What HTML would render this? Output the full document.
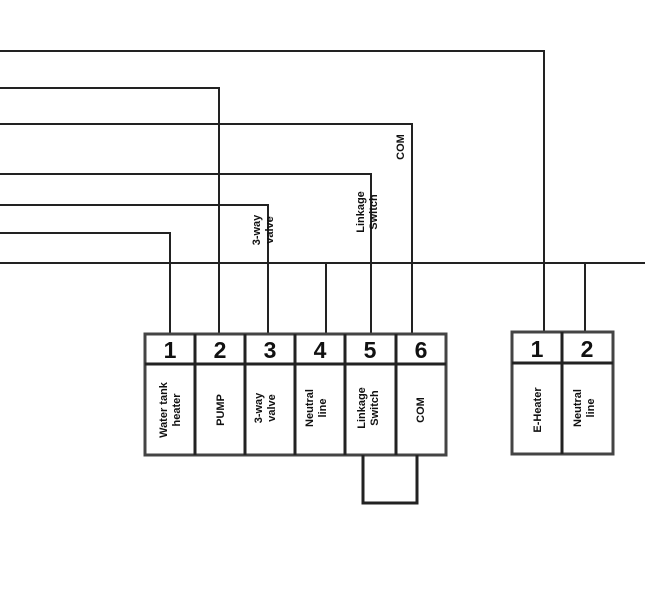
<!DOCTYPE html>
<html><head><meta charset="utf-8"><style>
html,body{margin:0;padding:0;background:#fff;}
svg{display:block;}
text{font-family:"Liberation Sans",Arial,sans-serif;fill:#111;}
.n{font-size:23px;font-weight:bold;text-anchor:middle;}
.l{font-size:11px;text-anchor:middle;font-weight:bold;}
</style></head><body>
<svg width="645" height="590" viewBox="0 0 645 590" xmlns="http://www.w3.org/2000/svg">
<g stroke="#222" stroke-width="2" fill="none">
<polyline points="0,51 544,51 544,332"/>
<polyline points="0,88 219,88 219,334"/>
<polyline points="0,124 412,124 412,334"/>
<polyline points="0,174 371,174 371,334"/>
<polyline points="0,205 268,205 268,334"/>
<polyline points="0,233 170,233 170,334"/>
<line x1="0" y1="263" x2="645" y2="263"/>
<line x1="326" y1="263" x2="326" y2="334"/>
<line x1="585" y1="263" x2="585" y2="332"/>
<rect x="145" y="334" width="301" height="121" stroke="#444" stroke-width="3"/>
<line x1="145" y1="364" x2="446" y2="364" stroke-width="3"/>
<line x1="195" y1="334" x2="195" y2="455" stroke-width="3"/>
<line x1="245" y1="334" x2="245" y2="455" stroke-width="3"/>
<line x1="295" y1="334" x2="295" y2="455" stroke-width="3"/>
<line x1="345" y1="334" x2="345" y2="455" stroke-width="3"/>
<line x1="396" y1="334" x2="396" y2="455" stroke-width="3"/>
<polyline points="363,455 363,503 417,503 417,455" stroke-width="3"/>
<rect x="512" y="332" width="101" height="122" stroke="#444" stroke-width="3"/>
<line x1="512" y1="363" x2="613" y2="363" stroke-width="3"/>
<line x1="562" y1="332" x2="562" y2="454" stroke-width="3"/>
</g>
<text class="n" x="170" y="358">1</text>
<text class="n" x="220" y="358">2</text>
<text class="n" x="270" y="358">3</text>
<text class="n" x="320" y="358">4</text>
<text class="n" x="370" y="358">5</text>
<text class="n" x="421" y="358">6</text>
<text class="n" x="537" y="357">1</text>
<text class="n" x="587" y="357">2</text>
<g class="l">
<text transform="translate(167,410) rotate(-90)"><tspan x="0" dy="0">Water tank</tspan><tspan x="0" dy="13">heater</tspan></text>
<text transform="translate(224,410) rotate(-90)">PUMP</text>
<text transform="translate(262,408) rotate(-90)"><tspan x="0" dy="0">3-way</tspan><tspan x="0" dy="13">valve</tspan></text>
<text transform="translate(313,408) rotate(-90)"><tspan x="0" dy="0">Neutral</tspan><tspan x="0" dy="13">line</tspan></text>
<text transform="translate(365,408) rotate(-90)"><tspan x="0" dy="0">Linkage</tspan><tspan x="0" dy="13">Switch</tspan></text>
<text transform="translate(424,410) rotate(-90)">COM</text>
<text transform="translate(541,410) rotate(-90)">E-Heater</text>
<text transform="translate(581,408) rotate(-90)"><tspan x="0" dy="0">Neutral</tspan><tspan x="0" dy="13">line</tspan></text>
<text transform="translate(260,230) rotate(-90)"><tspan x="0" dy="0">3-way</tspan><tspan x="0" dy="13">valve</tspan></text>
<text transform="translate(364,212) rotate(-90)"><tspan x="0" dy="0">Linkage</tspan><tspan x="0" dy="13">Switch</tspan></text>
<text transform="translate(404,147) rotate(-90)">COM</text>
</g>
</svg>
</body></html>
